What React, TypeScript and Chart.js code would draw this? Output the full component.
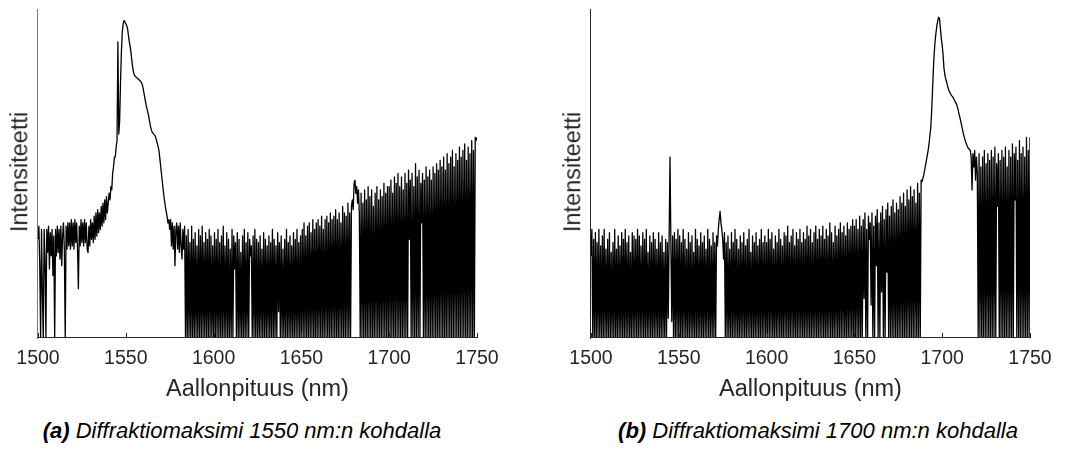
import React, { useEffect, useRef } from "react";
import { Chart, registerables } from "chart.js";

Chart.register(...registerables);

// Wavelength grid: 1500 nm to 1750 nm, one sample every 0.5 nm
const X_START = 1500;
const X_STEP = 0.5;
const X_MIN = 1500;
const X_MAX = 1750;
const X_TICK_STEP = 50;

// ---- Panel (a): intensities (0 = axis bottom, 100 = axis top)
const a1500 = [30,34,22,0,33,14,0,33,24,0, 33,26,34,21,32,25,33,19,31,0, 33,25,34,26,33,24,34,22,31,35, 27,0,34,27,35,28,35,27,36,28, 35,27,36,29,35,27,15,34,28,36];
const a1525 = [29,35,28,36,29,35,27,26,34,28, 36,30,35,29,37,30,38,31,39,32, 38,33,40,34,41,35,42,36,43,38, 41,44,42,46,45,50,52,55,55,58, 60,90,62,66,78,87,93,95.5,96.5,96];
const a1550 = [95.5,95,94,92,90,88.5,86.5,84,82,80.5, 79.8,79.5,79.2,79,78.8,78.5,78.2,78,77.5,76.8, 75.5,74,72.5,71,69.8,68.7,67.5,66,64.5,63.4, 62.6,62.2,61.9,61.6,61,60,59,58,56.5,54, 51.5,49,46.5,44,42,40,38.5,37,35,36];
const a1575 = [33,36,28,35,27,34,22,33,35,27, 34,26,35,28,24,33,27,34,0,31, 0,33,0,29,0,34,0,30,0,32, 0,28,0,33,0,31,0,34,0,29, 0,32,0,30,0,33,0,31,0,28];
const a1600 = [0,32,0,30,0,33,0,29,0,31, 0,34,0,28,0,32,0,30,0,27, 0,33,0,31,21,29,0,32,0,30, 0,26,0,31,0,33,0,29,0,32, 0,30,25,28,0,31,0,33,0,30];
const a1625 = [0,29,0,31,0,27,0,32,0,30, 0,28,0,31,0,29,0,33,0,30, 0,28,0,32,8,29,0,31,0,27, 0,30,0,33,0,29,0,31,0,28, 0,32,0,30,0,33,0,29,0,31];
const a1650 = [0,33,0,35,0,31,0,34,0,35, 0,32,0,36,0,33,0,35,0,36, 0,34,0,37,0,33,0,36,0,37, 0,35,0,38,0,36,0,37,0,39, 0,36,0,38,0,35,0,40,0,38];
const a1675 = [0,37,0,41,0,38,0,40,42,39, 47,48,44,46,41,45,38,0,44,0, 41,0,45,0,42,0,46,0,43,0, 45,0,40,0,44,0,46,0,42,0, 45,0,43,0,47,0,44,0,46,0];
const a1700 = [46,0,48,0,44,0,49,0,47,0, 50,0,46,0,49,0,45,0,50,0, 47,0,51,30,48,0,50,0,46,0, 53,0,49,0,51,0,47,35,50,0, 48,0,52,0,49,0,51,0,48,0];
const a1725 = [52,0,50,0,53,0,51,0,54,0, 52,0,55,0,51,0,56,0,53,0, 55,0,57,0,52,0,56,0,54,0, 58,0,55,0,57,0,59,0,54,0, 58,0,56,0,60,0,57,0,61,60, 61];

// ---- Panel (b)
const b1500 = [25,33,0,30,0,32,0,29,0,33, 0,28,0,31,0,33,0,27,0,30, 0,32,0,26,0,29,0,33,0,27, 0,31,0,28,0,32,0,30,0,33, 0,29,0,31,0,26,0,32,0,31];
const b1525 = [0,30,0,33,0,31,0,28,0,32, 0,30,0,33,0,26,0,31,0,29, 0,32,0,30,0,27,0,32,0,29, 0,31,0,26,0,30,0,29,6,31, 55,28,5,31,0,32,0,30,0,33];
const b1550 = [0,31,0,29,0,33,0,30,0,27, 0,32,0,29,0,31,0,26,0,33, 0,30,0,28,0,32,0,29,0,31, 0,27,0,33,0,30,0,28,0,32, 0,29,0,31,28,33,36,38.5,35,33];
const b1575 = [30,24,32,0,29,0,31,0,27,0, 32,0,29,0,33,0,30,0,27,0, 31,0,29,0,32,0,28,0,30,0, 33,0,26,0,31,0,29,0,32,0, 28,0,30,0,33,0,29,0,31,0];
const b1600 = [29,0,33,0,30,0,32,0,27,0, 31,0,29,0,33,0,30,0,28,0, 32,0,31,0,34,0,29,0,31,0, 33,0,28,0,32,0,30,0,33,0, 29,0,32,0,30,0,34,0,31,0];
const b1625 = [33,0,29,0,32,0,34,0,30,0, 33,0,31,0,34,0,30,0,33,0, 31,0,35,0,32,0,29,0,34,0, 31,0,33,0,35,0,32,0,34,0, 31,0,35,0,33,0,34,0,36,0];
const b1650 = [34,0,36,0,33,0,37,0,34,0, 36,12,38,0,33,0,37,30,35,10, 38,0,34,0,37,22,39,0,35,0, 38,14,40,0,36,0,39,20,41,0, 37,0,40,0,42,0,38,0,41,0];
const b1675 = [39,0,43,0,41,0,44,0,40,0, 45,0,42,0,46,0,43,0,45,0, 41,0,47,0,44,0,48,47.5,48.5,49.5, 51,52.5,54,55.5,57,59,61.5,64,69,75.5, 82,87,90.5,93,95,96.5,97.5,97,94,91];
const b1700 = [89,86,82,80,78.8,77.8,76.8,75.8,75,74.5, 74,73.6,73.3,72.8,72.2,71.7,71.3,70.5,69.5,68.3, 67.2,66,64.8,63.5,62.3,61.2,60.2,59.4,58.7,58, 57.6,57.3,57,55,45,56,52,57,48,55, 50,0,56,0,52,0,55,0,57,0];
const b1725 = [53,0,56,0,54,0,57,0,55,0, 58,0,53,40,56,0,54,0,57,0, 55,0,58,0,52,0,57,0,55,0, 59,0,56,42,58,0,54,0,60,0, 56,0,58,0,55,0,61,0,57,0, 61];

const seriesA = [...a1500, ...a1525, ...a1550, ...a1575, ...a1600, ...a1625, ...a1650, ...a1675, ...a1700, ...a1725];
const seriesB = [...b1500, ...b1525, ...b1550, ...b1575, ...b1600, ...b1625, ...b1650, ...b1675, ...b1700, ...b1725];

const X_TITLE = "Aallonpituus (nm)";
const Y_TITLE = "Intensiteetti";
const CAPTION_A_TAG = "(a)";
const CAPTION_A_TEXT = " Diffraktiomaksimi 1550 nm:n kohdalla";
const CAPTION_B_TAG = "(b)";
const CAPTION_B_TEXT = " Diffraktiomaksimi 1700 nm:n kohdalla";

const FONT = "'Liberation Sans', Arial, Helvetica, sans-serif";
const TEXT_COLOR = "#262626";

const axesPlugin = {
  id: "matlabAxes",
  afterDraw(chart: any, _args: any, opts: any) {
    const { ctx, chartArea, scales } = chart;
    const { left, right, top, bottom } = chartArea;
    const xs = scales.x;
    ctx.save();
    ctx.lineWidth = 1;
    ctx.strokeStyle = opts.yColor;
    ctx.beginPath();
    ctx.moveTo(Math.round(left) - 0.5, top);
    ctx.lineTo(Math.round(left) - 0.5, Math.round(bottom) + 1);
    ctx.stroke();
    ctx.strokeStyle = opts.xColor;
    ctx.beginPath();
    ctx.moveTo(left - 1, Math.round(bottom) - 0.5);
    ctx.lineTo(right, Math.round(bottom) - 0.5);
    for (const t of xs.ticks) {
      const px = Math.round(xs.getPixelForValue(t.value)) + 0.5;
      ctx.moveTo(px, Math.round(bottom));
      ctx.lineTo(px, Math.round(bottom) - 5);
    }
    ctx.stroke();
    ctx.restore();
  },
};

function Panel(props: { values: number[]; left: number; yColor: string }) {
  const ref = useRef<HTMLCanvasElement>(null);
  useEffect(() => {
    const points = props.values.map((v, i) => ({ x: X_START + i * X_STEP, y: v }));
    const chart = new Chart(ref.current as HTMLCanvasElement, {
      type: "line",
      data: {
        datasets: [
          {
            data: points,
            borderColor: "#000000",
            borderWidth: 1.3,
            borderJoinStyle: "round",
            pointRadius: 0,
            // a tiny tension keeps straight segments but makes Chart.js draw every point
            tension: 0.00001,
            fill: false,
          },
        ],
      },
      options: {
        animation: false,
        responsive: false,
        maintainAspectRatio: false,
        events: [],
        layout: { padding: { left: 38, right: 53, top: 9, bottom: 0 } },
        plugins: {
          legend: { display: false },
          tooltip: { enabled: false },
          matlabAxes: { yColor: props.yColor, xColor: "#262626" },
        } as any,
        scales: {
          x: {
            type: "linear",
            min: X_MIN,
            max: X_MAX,
            grid: { display: false, drawTicks: false },
            border: { display: false },
            ticks: {
              stepSize: X_TICK_STEP,
              autoSkip: false,
              maxRotation: 0,
              padding: 9,
              color: TEXT_COLOR,
              font: { family: FONT, size: 19.5 },
              callback: (v: any) => String(v),
            },
            afterFit: (s: any) => {
              s.height = 62;
            },
          },
          y: { display: false, min: 0, max: 100 },
        },
      },
      plugins: [axesPlugin],
    });
    return () => chart.destroy();
  }, []);
  return (
    <canvas
      ref={ref}
      width={530}
      height={400}
      style={{ position: "absolute", left: props.left, top: 0, width: 530, height: 400 }}
    />
  );
}

const yTitleStyle = (cx: number): React.CSSProperties => ({
  position: "absolute",
  left: cx,
  top: 172,
  transform: "translate(-50%, -50%) rotate(-90deg)",
  whiteSpace: "nowrap",
  font: `23.5px ${FONT}`,
  lineHeight: "23.5px",
  color: TEXT_COLOR,
});

const xTitleStyle = (cx: number): React.CSSProperties => ({
  position: "absolute",
  left: cx,
  top: 377,
  transform: "translateX(-50%)",
  whiteSpace: "nowrap",
  font: `23.5px ${FONT}`,
  lineHeight: "23.5px",
  color: TEXT_COLOR,
});

const captionStyle = (cx: number): React.CSSProperties => ({
  position: "absolute",
  left: cx,
  top: 420,
  transform: "translateX(-50%)",
  whiteSpace: "nowrap",
  font: `italic 22px ${FONT}`,
  lineHeight: "22px",
  color: "#000000",
});

export default function App() {
  return (
    <div
      style={{
        position: "fixed",
        left: 0,
        top: 0,
        width: 1083,
        height: 452,
        background: "#ffffff",
        overflow: "hidden",
      }}
    >
      <Panel values={seriesA} left={0} yColor="#7a7a7a" />
      <Panel values={seriesB} left={553} yColor="#262626" />
      <div style={yTitleStyle(19.5)}>{Y_TITLE}</div>
      <div style={yTitleStyle(572.5)}>{Y_TITLE}</div>
      <div style={xTitleStyle(257.5)}>{X_TITLE}</div>
      <div style={xTitleStyle(810.5)}>{X_TITLE}</div>
      <div style={captionStyle(242)}>
        <b>{CAPTION_A_TAG}</b>
        {CAPTION_A_TEXT}
      </div>
      <div style={captionStyle(818)}>
        <b>{CAPTION_B_TAG}</b>
        {CAPTION_B_TEXT}
      </div>
    </div>
  );
}
